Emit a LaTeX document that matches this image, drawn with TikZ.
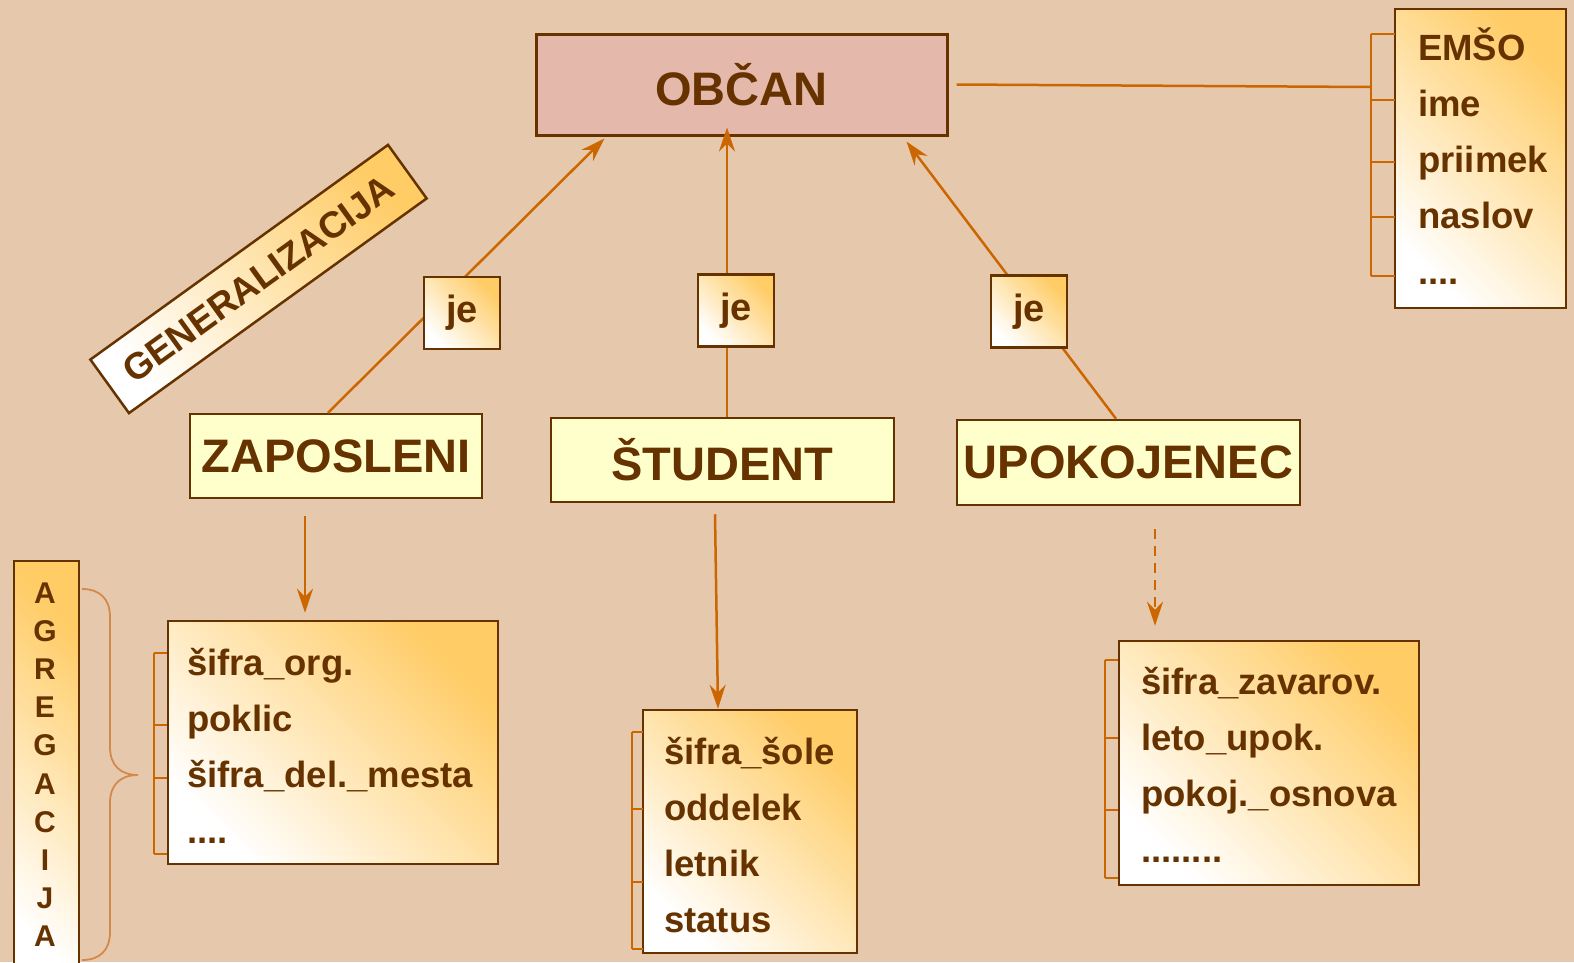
\documentclass[tikz,border=0pt]{standalone}
\usepackage{fontspec}
\setmainfont{Liberation Sans}
\usetikzlibrary{positioning, calc, arrows.meta}
\definecolor{bgtan}{HTML}{E6C9AC}
\definecolor{rootpink}{HTML}{E4B8AA}
\definecolor{entyellow}{HTML}{FFFFCC}
\definecolor{attryellow}{HTML}{FFCC66}
\definecolor{darkbrown}{HTML}{663300}
\definecolor{linkorange}{HTML}{CC6600}
\definecolor{braceorange}{HTML}{D4884A}

\tikzset{
	entity/.style={
			draw=darkbrown,
			line width=2.5pt,
			fill=entyellow,
			text=darkbrown,
			font=\bfseries\fontsize{47}{56}\selectfont,
			inner sep=0pt
		},
	rootentity/.style={
			entity,
			fill=rootpink,
			line width=3pt
		},
	attrbox/.style={
			draw=darkbrown,
			line width=2.5pt,
			left color=white,
			right color=attryellow,
			shading angle=135,
			inner sep=0pt
		},
	attrtext/.style={
			text=darkbrown,
			font=\bfseries\fontsize{36.5}{56}\selectfont,
			anchor=base west,
			inner sep=0pt
		},
	isbox/.style={
			attrbox,
			text=darkbrown,
			font=\bfseries\fontsize{38}{40}\selectfont,
			minimum width=76pt,
			minimum height=72pt
		},
	labelbox/.style={
			attrbox,
			text=darkbrown,
			font=\bfseries\fontsize{37}{40}\selectfont
		},
	link/.style={
			draw=linkorange,
			line width=2.5pt
		},
	linkarrow/.style={
			link,
			-{Stealth[length=24pt,width=16pt,inset=8pt]}
		},
	bracket/.style={
			draw=linkorange,
			line width=2.5pt
		},
	aggbrace/.style={
			draw=braceorange,
			line width=1.8pt
		}
}

\begin{document}
\begin{tikzpicture}[x=1pt, y=-1pt]
\fill[bgtan] (0,0) rectangle (1574,962);
\useasboundingbox (0,0) rectangle (1574,962);

\node[rootentity, minimum width=411pt, minimum height=101pt] (obcan) at (741.5,84.5) { OBČAN };
\node[entity, minimum width=292pt, minimum height=84pt] (zap) at (336,456) { ZAPOSLENI };
\node[entity, minimum width=343pt, minimum height=84pt] (stud) at (722.5,460) { ŠTUDENT };
\node[entity, minimum width=343pt, minimum height=85pt] (upok) at (1128.5,462.5) { UPOKOJENEC };

\node[attrbox, minimum width=171pt, minimum height=299pt] (obcanattr) at (1480.5,158.5) {};
\node[attrbox, minimum width=330pt, minimum height=243pt] (zapattr) at (333,742.5) {};
\node[attrbox, minimum width=214pt, minimum height=243pt] (studattr) at (750,831.5) {};
\node[attrbox, minimum width=300pt, minimum height=244pt] (upokattr) at (1269,763) {};
\node[attrbox, minimum width=65pt, minimum height=430pt] (aggbox) at (46.5,776) {};

\foreach \t [count=\i from 0] in {EMŠO, ime, priimek, naslov, {\mbox{....}}}
  \node[attrtext] at (1418,60+56*\i) { \t };
\foreach \t [count=\i from 0] in {šifra\_org., poklic, šifra\_del.\_mesta, {\mbox{....}}}
  \node[attrtext] at (187,675+56*\i) { \t };
\foreach \t [count=\i from 0] in {šifra\_šole, oddelek, letnik, status}
  \node[attrtext] at (664,764+56*\i) { \t };
\foreach \t [count=\i from 0] in {šifra\_zavarov., leto\_upok., pokoj.\_osnova, {\mbox{........}}}
  \node[attrtext] at (1141,694+56*\i) { \t };

\foreach \c [count=\i from 0] in {A,G,R,E,G,A,C,I,J,A}
  \node[text=darkbrown, font=\bfseries\fontsize{30}{32}\selectfont, anchor=base, inner sep=0pt]
    at (45,603+38.2*\i) { \c };

\node[labelbox, rotate=35.8, minimum width=367pt, minimum height=66pt] (genlabel) at (258.5,279) { GENERALIZACIJA };

\draw[linkarrow] ($(zap.north)+(-8,0)$) -- ($(obcan.south west)+(70,2)$);
\draw[linkarrow] ($(stud.north)+(4.5,0)$) -- ($(obcan.south)+(-14.5,-9)$);
\draw[linkarrow] ($(upok.north)+(-12.5,0)$) -- ($(obcan.south east)+(-42,5)$);

\node[isbox] (je1) at (462,313) { je };
\node[isbox] (je2) at (736,310.5) { je };
\node[isbox] (je3) at (1029,311.5) { je };

\draw[linkarrow] ($(zap.south)+(-31,17)$) -- ($(zapattr.north)+(-28,-7)$);
\draw[linkarrow] ($(stud.south)+(-7.5,11)$) -- ($(studattr.north)+(-32,0)$);
\draw[linkarrow, dash pattern=on 10pt off 7pt] ($(upok.south)+(26.5,23)$) -- ($(upokattr.north)+(-114,-14)$);

\coordinate (attrjoin) at (1371,87);
\draw[link] ($(obcan.east)+(8,0)$) -- (attrjoin);

\draw[bracket] (1371,34) -- (1371,276);
\foreach \y in {34,100,162,217,276}
  \draw[bracket] (1371,\y) -- (1395,\y);
\draw[bracket] (154,653) -- (154,854);
\foreach \y in {653,725,778,854}
  \draw[bracket] (154,\y) -- (167,\y);
\draw[bracket] (632,732) -- (632,949);
\foreach \y in {732,809,882,949}
  \draw[bracket] (632,\y) -- (643,\y);
\draw[bracket] (1105,660) -- (1105,878);
\foreach \y in {660,738,810,878}
  \draw[bracket] (1105,\y) -- (1118,\y);

\draw[aggbrace] (82,589) .. controls (100,589) and (110,599) .. (110,617)
  -- (110,747) .. controls (110,765) and (120,775) .. (138,775)
  .. controls (120,775) and (110,785) .. (110,803)
  -- (110,932) .. controls (110,950) and (100,960) .. (82,960);
\end{tikzpicture}
\end{document}
